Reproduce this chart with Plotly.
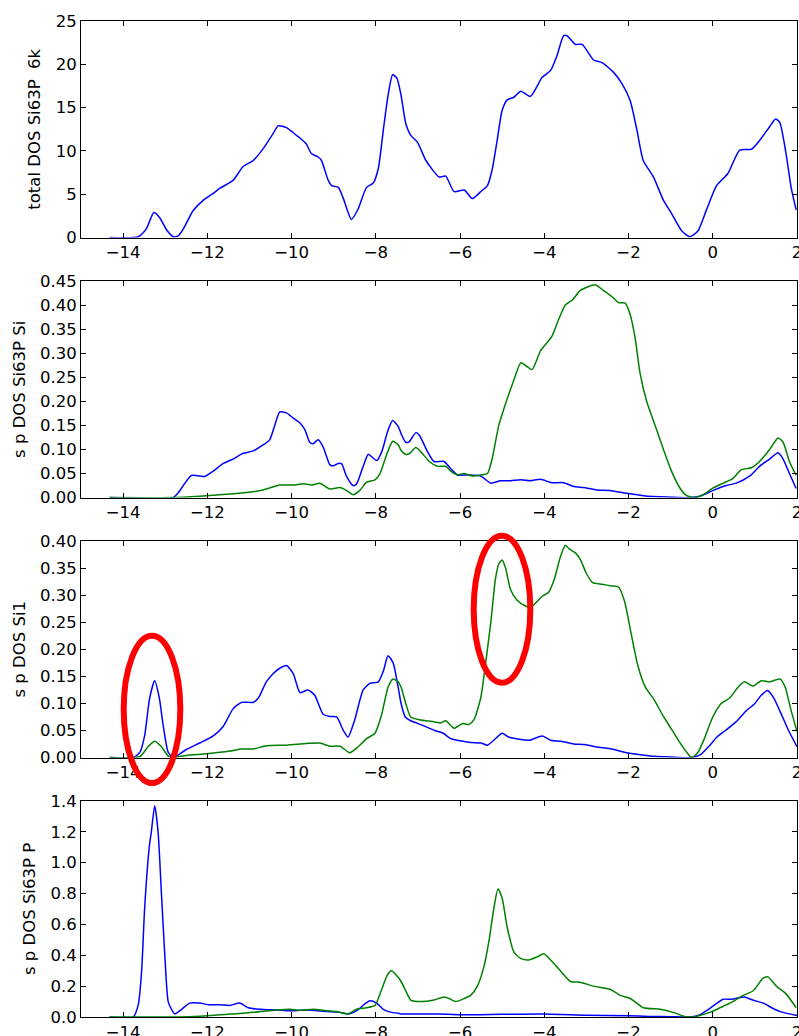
import plotly.graph_objects as go
from plotly.subplots import make_subplots

# ---------------- data ----------------
tot_x = [-14.32, -13.64, -13.45, -13.27, -13.13, -12.97, -12.81, -12.69, -12.57, -12.34, -12.1, -11.86, -11.7,
         -11.39, -11.15, -10.91, -10.67, -10.44, -10.32, -10.12, -9.96, -9.8, -9.65, -9.53, -9.37, -9.29, -9.13,
         -9.05, -8.89, -8.77, -8.58, -8.42, -8.22, -8.06, -7.94, -7.82, -7.71, -7.6, -7.5, -7.4, -7.29, -7.17,
         -7.01, -6.81, -6.5, -6.34, -6.14, -5.9, -5.71, -5.51, -5.35, -5.24, -5.12, -5.0, -4.88, -4.72, -4.56,
         -4.33, -4.05, -3.85, -3.7, -3.54, -3.46, -3.26, -3.1, -2.83, -2.63, -2.36, -2.16, -1.96, -1.8, -1.65,
         -1.41, -1.17, -0.98, -0.74, -0.54, -0.35, -0.15, 0.09, 0.36, 0.64, 0.92, 1.11, 1.35, 1.49, 1.59, 1.74,
         1.86, 1.98]
tot_y = [0.0, 0.1, 1.0, 2.9, 2.3, 0.9, 0.1, 0.2, 1.0, 3.1, 4.3, 5.1, 5.7,
         6.6, 8.2, 8.9, 10.3, 12.0, 12.9, 12.7, 12.1, 11.5, 10.8, 9.7, 9.3, 8.9, 6.6,
         6.0, 5.8, 4.5, 2.1, 3.3, 5.8, 6.3, 8.0, 12.5, 16.4, 18.8, 18.4, 16.4, 13.2, 11.8,
         11.0, 8.9, 7.0, 7.1, 5.3, 5.5, 4.5, 5.3, 6.0, 7.8, 11.2, 14.7, 15.9, 16.2, 16.9,
         16.3, 18.5, 19.3, 21.0, 23.3, 23.3, 22.3, 22.3, 20.5, 20.2, 19.1, 17.8, 15.8, 12.4, 8.9,
         7.0, 4.3, 2.8, 0.8, 0.1, 0.8, 3.2, 6.0, 7.4, 10.1, 10.2, 11.2, 12.8, 13.7, 13.3, 9.7,
         5.8, 3.2]

si_s_x = [-14.32, -12.81, -12.69, -12.54, -12.38, -12.18, -12.06, -11.86, -11.62, -11.39, -11.15, -10.91, -10.67,
          -10.52, -10.4, -10.28, -10.12, -9.96, -9.8, -9.68, -9.57, -9.49, -9.37, -9.25, -9.09, -9.01, -8.89,
          -8.81, -8.7, -8.54, -8.46, -8.3, -8.18, -8.1, -7.98, -7.86, -7.71, -7.6, -7.47, -7.4, -7.29, -7.21,
          -7.05, -6.97, -6.77, -6.62, -6.38, -6.22, -6.06, -5.83, -5.51, -5.27, -5.04, -4.8, -4.56, -4.33, -4.09,
          -3.82, -3.54, -3.3, -3.07, -2.75, -2.44, -2.12, -1.88, -1.65, -1.09, -0.54, -0.31, 0.01, 0.32, 0.56,
          0.88, 1.11, 1.35, 1.55, 1.67, 1.82, 1.98]
si_s_y = [0.0, 0.0, 0.01, 0.029, 0.046, 0.045, 0.044, 0.055, 0.071, 0.08, 0.092, 0.097, 0.11,
          0.12, 0.15, 0.178, 0.176, 0.165, 0.155, 0.14, 0.115, 0.112, 0.12, 0.105, 0.068, 0.066, 0.071,
          0.07, 0.045, 0.025, 0.028, 0.065, 0.09, 0.085, 0.077, 0.095, 0.14, 0.16, 0.148, 0.133, 0.115, 0.116,
          0.135, 0.13, 0.095, 0.075, 0.075, 0.06, 0.047, 0.047, 0.045, 0.03, 0.035, 0.035, 0.037, 0.035, 0.038,
          0.031, 0.031, 0.023, 0.021, 0.016, 0.015, 0.01, 0.007, 0.004, 0.001, 0.0, 0.003, 0.015, 0.025, 0.03,
          0.045, 0.065, 0.08, 0.093, 0.08, 0.05, 0.019]

si_p_x = [-14.32, -12.81, -12.18, -11.39, -10.91, -10.6, -10.28, -9.96, -9.72, -9.53, -9.33, -9.09, -8.85,
          -8.7, -8.54, -8.38, -8.22, -8.02, -7.9, -7.74, -7.6, -7.47, -7.4, -7.29, -7.21, -7.05, -6.93, -6.73,
          -6.54, -6.34, -6.22, -6.06, -5.91, -5.71, -5.51, -5.35, -5.24, -5.08, -4.92, -4.72, -4.56, -4.45, -4.29,
          -4.09, -3.82, -3.66, -3.5, -3.34, -3.15, -2.99, -2.79, -2.59, -2.36, -2.24, -2.08, -1.96, -1.84, -1.73,
          -1.57, -1.41, -1.17, -0.98, -0.78, -0.62, -0.42, -0.23, 0.01, 0.25, 0.48, 0.68, 0.92, 1.11, 1.35,
          1.55, 1.67, 1.82, 1.98]
si_p_y = [0.0, 0.0, 0.003, 0.008, 0.012, 0.018, 0.026, 0.026, 0.029, 0.026, 0.03, 0.018, 0.021,
          0.015, 0.006, 0.015, 0.032, 0.037, 0.05, 0.09, 0.117, 0.11, 0.098, 0.09, 0.091, 0.104, 0.095, 0.075,
          0.065, 0.065, 0.055, 0.047, 0.05, 0.045, 0.047, 0.05, 0.08, 0.15, 0.195, 0.245, 0.28, 0.275, 0.266,
          0.305, 0.335, 0.37, 0.4, 0.41, 0.43, 0.437, 0.442, 0.43, 0.415, 0.405, 0.404, 0.38, 0.33, 0.26,
          0.2, 0.16, 0.1, 0.055, 0.02, 0.004, 0.0, 0.006, 0.02, 0.03, 0.04, 0.058, 0.062, 0.075, 0.1,
          0.124, 0.115, 0.075, 0.046]

si1_s_x = [-14.32, -13.76, -13.6, -13.49, -13.37, -13.25, -13.14, -13.05, -12.93, -12.81, -12.5, -12.18, -11.86,
           -11.62, -11.39, -11.19, -10.91, -10.79, -10.6, -10.44, -10.28, -10.12, -9.96, -9.8, -9.61, -9.45,
           -9.25, -9.09, -8.93, -8.77, -8.66, -8.5, -8.3, -8.14, -7.94, -7.82, -7.71, -7.59, -7.47, -7.4, -7.3,
           -7.17, -6.9, -6.6, -6.4, -6.22, -6.0, -5.75, -5.5, -5.35, -5.2, -5.0, -4.85, -4.6, -4.35, -4.05,
           -3.85, -3.6, -3.3, -3.05, -2.7, -2.4, -2.1, -1.8, -1.5, -1.0, -0.54, -0.3, -0.1, 0.1, 0.3, 0.55,
           0.8, 1.0, 1.15, 1.3, 1.45, 1.6, 1.8, 2.0]
si1_s_y = [0.0, 0.0, 0.01, 0.04, 0.11, 0.142, 0.11, 0.06, 0.01, 0.0, 0.015, 0.027, 0.04,
           0.058, 0.09, 0.102, 0.102, 0.11, 0.14, 0.155, 0.165, 0.17, 0.155, 0.12, 0.125, 0.115,
           0.08, 0.076, 0.075, 0.05, 0.038, 0.07, 0.125, 0.137, 0.14, 0.16, 0.188, 0.175, 0.13, 0.1, 0.075,
           0.068, 0.06, 0.05, 0.045, 0.035, 0.031, 0.028, 0.027, 0.023, 0.032, 0.045, 0.038, 0.034, 0.032, 0.04,
           0.032, 0.03, 0.025, 0.024, 0.019, 0.016, 0.01, 0.006, 0.003, 0.001, 0.0, 0.005, 0.02, 0.038, 0.05, 0.066,
           0.087, 0.1, 0.115, 0.124, 0.11, 0.085, 0.05, 0.02]

si1_p_x = [-14.32, -13.6, -13.41, -13.25, -13.09, -12.93, -12.81, -12.5, -12.02, -11.47, -11.19, -10.91, -10.6,
           -10.12, -9.65, -9.33, -9.09, -8.85, -8.62, -8.42, -8.22, -8.02, -7.86, -7.71, -7.59, -7.47, -7.4,
           -7.29, -7.17, -6.97, -6.62, -6.46, -6.34, -6.14, -5.94, -5.79, -5.67, -5.51, -5.4, -5.27, -5.16,
           -5.08, -5.0, -4.92, -4.8, -4.64, -4.45, -4.33, -4.21, -4.05, -3.9, -3.76, -3.62, -3.5, -3.4, -3.26,
           -3.14, -3.0, -2.85, -2.63, -2.4, -2.24, -2.1, -1.94, -1.78, -1.6, -1.4, -1.2, -1.0, -0.8, -0.6,
           -0.5, -0.35, -0.2, 0.0, 0.2, 0.4, 0.6, 0.75, 0.95, 1.15, 1.35, 1.6, 1.72, 1.85, 2.0]
si1_p_y = [0.0, 0.002, 0.02, 0.03, 0.02, 0.003, 0.0, 0.004, 0.007, 0.012, 0.016, 0.016, 0.022,
           0.023, 0.026, 0.027, 0.021, 0.021, 0.009, 0.02, 0.035, 0.045, 0.08, 0.13, 0.145, 0.14, 0.13,
           0.1, 0.075, 0.07, 0.066, 0.064, 0.068, 0.054, 0.063, 0.061, 0.07, 0.11, 0.17, 0.25, 0.33,
           0.358, 0.365, 0.35, 0.31, 0.29, 0.28, 0.277, 0.285, 0.298, 0.305, 0.33, 0.37, 0.392, 0.385, 0.378,
           0.365, 0.34, 0.323, 0.32, 0.317, 0.315, 0.29, 0.23, 0.17, 0.13, 0.108, 0.08, 0.055, 0.03, 0.008,
           0.0, 0.01, 0.035, 0.075, 0.1, 0.11, 0.13, 0.14, 0.132, 0.142, 0.14, 0.145, 0.13, 0.09, 0.048]

p_s_x = [-14.32, -13.76, -13.64, -13.56, -13.49, -13.38, -13.33, -13.25, -13.17, -13.09, -13.01, -12.93, -12.85,
         -12.77, -12.61, -12.42, -12.18, -11.98, -11.7, -11.47, -11.23, -11.03, -10.75, -10.36, -10.04, -9.65,
         -9.17, -8.85, -8.66, -8.46, -8.26, -8.14, -7.98, -7.82, -7.63, -7.47, -7.4, -6.5, -6.0, -5.0, -4.0,
         -3.0, -2.0, -1.5, -1.0, -0.54, -0.3, -0.1, 0.1, 0.25, 0.45, 0.75, 0.95, 1.2, 1.4, 1.6, 2.0]
p_s_y = [0.0, 0.0, 0.08, 0.3, 0.7, 1.1, 1.2, 1.37, 1.2, 0.8, 0.4, 0.1, 0.05,
         0.02, 0.05, 0.09, 0.09, 0.08, 0.08, 0.075, 0.09, 0.06, 0.05, 0.045, 0.04, 0.045,
         0.035, 0.03, 0.02, 0.04, 0.085, 0.105, 0.09, 0.05, 0.03, 0.025, 0.02, 0.02, 0.015, 0.018, 0.02,
         0.012, 0.008, 0.004, 0.002, 0.0, 0.015, 0.05, 0.09, 0.115, 0.115, 0.13, 0.11, 0.09, 0.06, 0.035, 0.01]

p_p_x = [-14.32, -12.81, -12.18, -11.39, -10.91, -10.36, -10.04, -9.8, -9.49, -9.17, -8.93, -8.66, -8.46,
         -8.22, -8.02, -7.86, -7.73, -7.63, -7.51, -7.4, -7.29, -7.17, -6.93, -6.62, -6.38, -6.26, -6.1,
         -5.9, -5.75, -5.59, -5.43, -5.31, -5.2, -5.1, -5.0, -4.88, -4.72, -4.56, -4.37, -4.17, -4.01, -3.85,
         -3.62, -3.38, -3.15, -2.83, -2.44, -2.2, -1.96, -1.65, -1.25, -0.94, -0.62, -0.38, -0.07, 0.25,
         0.48, 0.72, 0.96, 1.19, 1.31, 1.51, 1.74, 1.98]
p_p_y = [0.0, 0.0, 0.005, 0.02, 0.03, 0.045, 0.05, 0.043, 0.05, 0.04, 0.035, 0.02, 0.05,
         0.06, 0.075, 0.18, 0.27, 0.3, 0.27, 0.23, 0.17, 0.11, 0.1, 0.11, 0.13, 0.12, 0.1,
         0.12, 0.14, 0.2, 0.33, 0.5, 0.7, 0.83, 0.77, 0.58, 0.42, 0.38, 0.37, 0.39, 0.41, 0.37,
         0.3, 0.23, 0.225, 0.2, 0.18, 0.14, 0.12, 0.06, 0.05, 0.03, 0.0, 0.005, 0.03, 0.07,
         0.1, 0.14, 0.17, 0.25, 0.26, 0.2, 0.15, 0.06]

y_titles = ["total DOS Si63P\u00a0 6k", "s p DOS Si63P Si", "s p DOS Si1", "s p DOS Si63P P"]
y_ranges = [[0, 25], [0, 0.45], [0, 0.40], [0, 1.4]]
y_dticks = [5, 0.05, 0.05, 0.2]
y_formats = ["d", ".2f", ".2f", ".1f"]
x_ticks = [-14, -12, -10, -8, -6, -4, -2, 0, 2]

BLUE = "#0000ff"
GREEN = "#008000"
FONT = "DejaVu Sans"
FS = 16.5

# ---------------- figure ----------------
fig = make_subplots(rows=4, cols=1)

def add(x, y, color, row):
    fig.add_trace(go.Scatter(x=x, y=y, mode="lines",
                             line=dict(color=color, width=1.5, shape="spline", smoothing=0.6),
                             showlegend=False, hoverinfo="skip"), row=row, col=1)

add(tot_x, tot_y, BLUE, 1)
add(si_s_x, si_s_y, BLUE, 2)
add(si_p_x, si_p_y, GREEN, 2)
add(si1_s_x, si1_s_y, BLUE, 3)
add(si1_p_x, si1_p_y, GREEN, 3)
add(p_s_x, p_s_y, BLUE, 4)
add(p_p_x, p_p_y, GREEN, 4)

W, H = 799, 1036
ML, MR, MT, MB = 81, 2, 21, 19
plot_h = H - MT - MB
sub_h = 216.6
step = 260.0
plot_bottom_px = H - MB

for i in range(4):
    top_px = MT + step * i
    bot_px = top_px + sub_h
    d0 = max(0.0, (plot_bottom_px - bot_px) / plot_h)
    d1 = min(1.0, (plot_bottom_px - top_px) / plot_h)
    ax = dict(showline=True, linecolor="black", linewidth=1, mirror="ticks",
              ticks="inside", ticklen=5, tickwidth=1, tickcolor="black",
              showgrid=False, zeroline=False, ticklabeloverflow="allow", automargin=False,
              tickfont=dict(family=FONT, size=FS, color="black"))
    fig.update_yaxes(domain=[d0, d1], range=y_ranges[i], dtick=y_dticks[i], tick0=0,
                     tickformat=y_formats[i],
                     title=dict(text=y_titles[i], font=dict(family=FONT, size=FS, color="black"), standoff=10),
                     row=i + 1, col=1, **ax)
    fig.update_xaxes(range=[-15, 2], tickvals=x_ticks,
                     ticktext=[("\u2212" + str(-v)) if v < 0 else str(v) for v in x_ticks],
                     row=i + 1, col=1, **ax)

def ex(px):
    return (px - ML) / (W - ML - MR)

def ey(py):
    return (plot_bottom_px - py) / plot_h

# red hand-drawn ellipses (annotation marks on the image), pixel centre-line bounds
for (x0, y0, x1, y1) in [(123.7, 635.7, 180.3, 783.0), (473.7, 535.7, 530.3, 682.7)]:
    fig.add_shape(type="circle", xref="paper", yref="paper",
                  x0=ex(x0), x1=ex(x1), y0=ey(y1), y1=ey(y0),
                  line=dict(color="#ff0000", width=6), layer="above")

fig.update_layout(width=W, height=H, margin=dict(l=ML, r=MR, t=MT, b=MB, autoexpand=False),
                  paper_bgcolor="white", plot_bgcolor="white",
                  font=dict(family=FONT, size=FS, color="black"))

fig.write_html("out.html")
